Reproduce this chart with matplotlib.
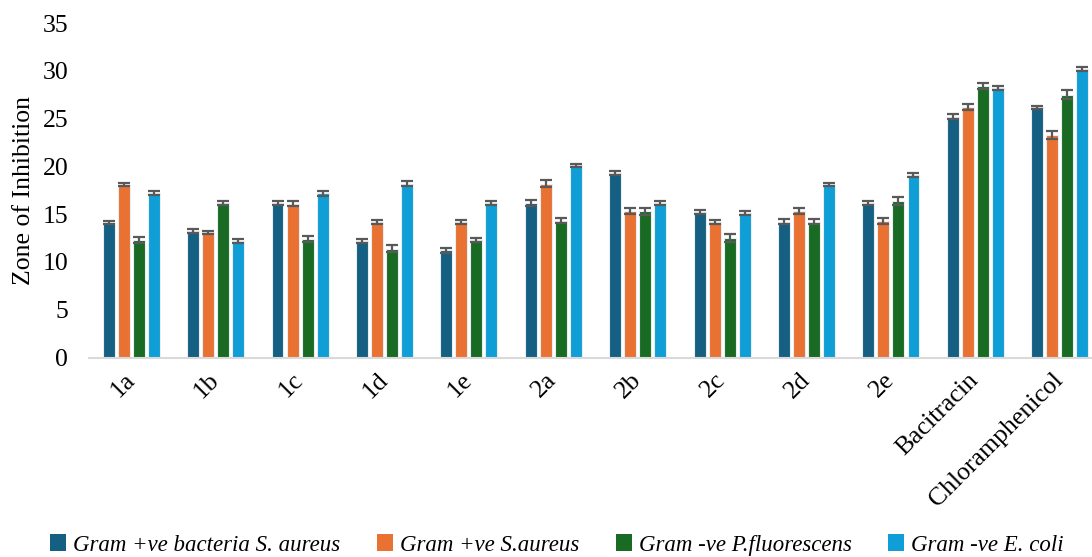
import matplotlib
matplotlib.use("Agg")
import matplotlib.pyplot as plt
import numpy as np

categories = ["1a", "1b", "1c", "1d", "1e", "2a", "2b", "2c", "2d", "2e",
              "Bacitracin", "Chloramphenicol"]

series_names = ["Gram +ve bacteria S. aureus", "Gram +ve S.aureus",
                "Gram -ve P.fluorescens", "Gram -ve E. coli"]

s_aureus_1 = [14.1, 13.2, 16.2, 12.2, 11.2, 16.2, 19.3, 15.2, 14.2, 16.2, 25.2, 26.2]
s_aureus_2 = [18.1, 13.1, 16.1, 14.2, 14.2, 18.2, 15.3, 14.2, 15.3, 14.3, 26.2, 23.3]
p_fluor = [12.3, 16.2, 12.4, 11.4, 12.3, 14.3, 15.3, 12.5, 14.2, 16.4, 28.4, 27.5]
e_coli = [17.2, 12.2, 17.2, 18.2, 16.2, 20.1, 16.2, 15.1, 18.1, 19.1, 28.2, 30.2]

err_s_aureus_1 = [0.15, 0.2, 0.2, 0.2, 0.25, 0.3, 0.25, 0.2, 0.25, 0.2, 0.25, 0.15]
err_s_aureus_2 = [0.2, 0.15, 0.25, 0.2, 0.2, 0.35, 0.3, 0.2, 0.3, 0.3, 0.3, 0.4]
err_p_fluor = [0.3, 0.2, 0.3, 0.4, 0.25, 0.25, 0.35, 0.4, 0.25, 0.4, 0.35, 0.45]
err_e_coli = [0.2, 0.2, 0.25, 0.25, 0.2, 0.15, 0.2, 0.2, 0.15, 0.2, 0.25, 0.2]

colors = ["#156082", "#E97132", "#196B24", "#0F9ED5"]

values = [s_aureus_1, s_aureus_2, p_fluor, e_coli]
errors = [err_s_aureus_1, err_s_aureus_2, err_p_fluor, err_e_coli]

plt.rcParams["font.family"] = ["Liberation Serif", "DejaVu Serif"]

W, H = 1092, 557
fig = plt.figure(figsize=(W / 100, H / 100), dpi=100)
# plot area runs past the right edge of the figure
left_px, right_px, top_px, bottom_px = 89, 1102, 23, 357.5
ax = fig.add_axes([left_px / W, 1 - bottom_px / H,
                   (right_px - left_px) / W, (bottom_px - top_px) / H])

x = np.arange(len(categories))
bar_w = 0.142
pitch = 0.178
offsets = (np.arange(4) - 1.5) * pitch

for i in range(4):
    ax.bar(x + offsets[i], values[i], width=bar_w, color=colors[i],
           edgecolor="#e8eef2", linewidth=0.8, label=series_names[i], zorder=2)
    ax.errorbar(x + offsets[i], values[i], yerr=errors[i], fmt="none",
                ecolor="#595959", elinewidth=1.6, capsize=4.5, capthick=1.6,
                zorder=3)

ax.set_xlim(-0.5, len(categories) - 0.5)
ax.set_ylim(0, 35)
ax.set_yticks(np.arange(0, 36, 5))
ax.tick_params(axis="y", length=0, pad=15, labelsize=18.5)
ax.tick_params(axis="x", length=0, pad=14, labelsize=18.5)
ax.set_xticks(x)
ax.set_xticklabels(categories, rotation=45, ha="right", va="center",
                   rotation_mode="anchor")

for side in ["top", "right", "left"]:
    ax.spines[side].set_visible(False)
ax.spines["bottom"].set_color("#d9d9d9")
ax.spines["bottom"].set_linewidth(1.5)

ax.set_ylabel("Zone of Inhibition", fontsize=18.5, labelpad=5)

leg = fig.legend(loc="center", bbox_to_anchor=(557 / W, 1 - 545 / H),
                 ncol=4, frameon=False, handlelength=0.7, handleheight=0.7,
                 handletextpad=0.3, columnspacing=1.6,
                 prop={"style": "italic", "size": 16.5})
for h in leg.legend_handles:
    h.set_edgecolor("none")

fig.savefig("out.png", dpi=100)
